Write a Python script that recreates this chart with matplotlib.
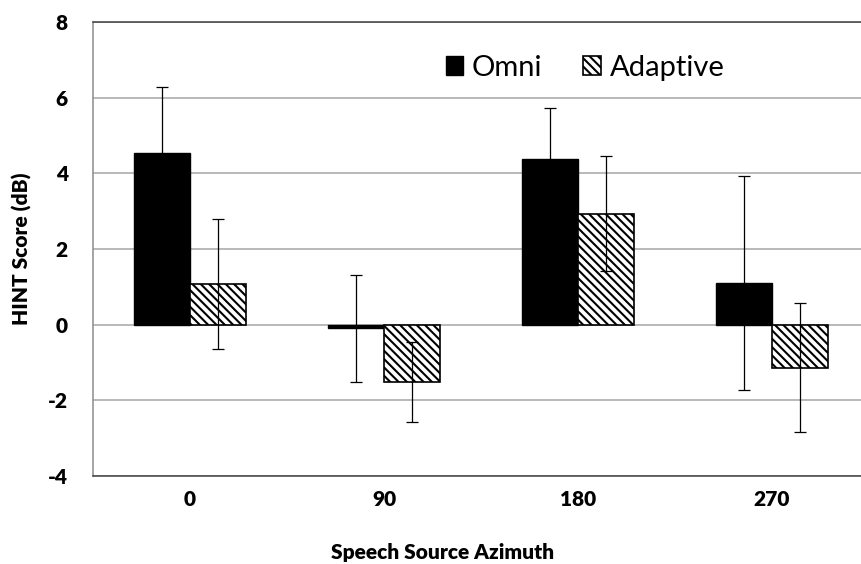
import matplotlib
matplotlib.use("Agg")
import matplotlib.pyplot as plt
import numpy as np

# data
azimuths = ["0", "90", "180", "270"]
omni = [4.53, -0.10, 4.39, 1.11]
omni_err = [1.74, 1.42, 1.35, 2.83]
adaptive = [1.07, -1.52, 2.93, -1.14]
adaptive_err = [1.72, 1.05, 1.52, 1.71]

plt.rcParams['font.family'] = ['Lato', 'DejaVu Sans']
plt.rcParams['hatch.linewidth'] = 1.5
plt.rcParams['axes.unicode_minus'] = False

fig = plt.figure(figsize=(8.61, 5.64), dpi=100)
ax = fig.add_axes([93 / 861, 1 - 476 / 564, 776 / 861, 454 / 564])

x = np.arange(len(azimuths))
w = 0.29
err_kw = dict(elinewidth=0.9, capsize=4.5, capthick=0.9, ecolor='black')
ax.bar(x - w / 2, omni, w, color='black', edgecolor='black', linewidth=1,
       yerr=omni_err, error_kw=err_kw, label='Omni', zorder=3)
ax.bar(x + w / 2, adaptive, w, color='white', edgecolor='black', linewidth=1.2,
       hatch='\\\\\\\\', yerr=adaptive_err, error_kw=err_kw, label='Adaptive', zorder=3)

ax.set_xlim(-0.5, 3.5)
ax.set_ylim(-4, 8)
ax.set_yticks(range(-4, 9, 2))
ax.set_xticks(x)
ax.set_xticklabels(azimuths)
ax.tick_params(axis='both', length=0, labelsize=15)
ax.tick_params(axis='y', pad=18)
ax.tick_params(axis='x', pad=10)
for lbl in ax.get_xticklabels() + ax.get_yticklabels():
    lbl.set_fontweight('heavy')

ax.yaxis.grid(True, color='#a6a6a6', linewidth=1.1, zorder=0)
ax.set_axisbelow(True)
ax.spines['right'].set_visible(False)
ax.spines['top'].set_color('#404040')
ax.spines['bottom'].set_color('#404040')
ax.spines['left'].set_color('#8c8c8c')
for s in ax.spines.values():
    s.set_linewidth(1.1)

ax.set_ylabel('HINT Score (dB)', fontsize=15, fontweight='heavy')
ax.set_xlabel('Speech Source Azimuth', fontsize=15, fontweight='heavy')
ax.yaxis.set_label_coords(-0.079, 0.5)
ax.xaxis.set_label_coords(0.45, -0.148)

ax.legend(loc='center', bbox_to_anchor=(0.634, 0.899), ncol=2, frameon=False,
          fontsize=21, handlelength=0.6, handleheight=0.6, handletextpad=0.3,
          columnspacing=1.4)

fig.savefig('out.png', dpi=100)
